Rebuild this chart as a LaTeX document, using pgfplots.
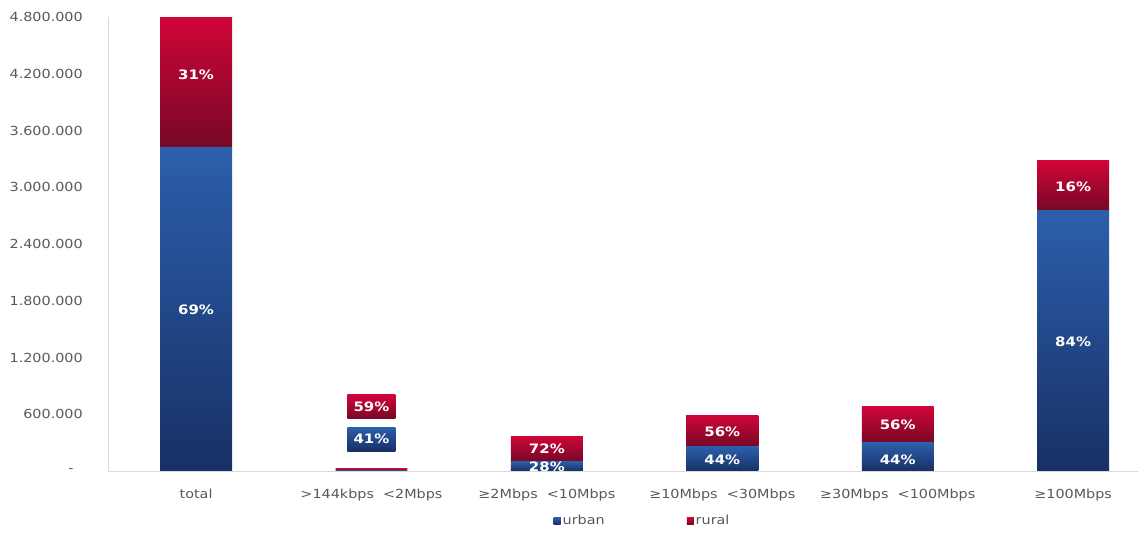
\documentclass[border=0pt]{standalone}
\usepackage{fontspec}
\setmainfont{DejaVu Sans}[FakeStretch=1.15]
\usepackage{pgfplots}
\pgfplotsset{compat=1.18}
\definecolor{urbanT}{RGB}{44,95,172}
\definecolor{urbanB}{RGB}{24,48,100}
\definecolor{ruralT}{RGB}{208,5,56}
\definecolor{ruralB}{RGB}{118,8,38}
\definecolor{tickgray}{RGB}{89,89,89}
\definecolor{axgray}{RGB}{217,217,217}
\newcommand\tickfont{\fontsize{12.5bp}{15bp}\selectfont}
\newcommand\lblfont{\fontsize{13bp}{15bp}\selectfont\bfseries}
\tikzset{lbl/.style={text=white, font=\lblfont, inner sep=0pt}}
\pgfplotsset{
  base/.style={at={(0,0)}, anchor=south west,
    scale only axis, width=1030bp, height=454bp,
    ybar stacked, bar width=0.41,
    xmin=-0.502, xmax=5.37, ymin=0, ymax=4800000},
  hid/.style={base, hide axis},
  u/.style={draw=none, top color=urbanT, bottom color=urbanB, fill=urbanB},
  r/.style={draw=none, top color=ruralT, bottom color=ruralB, fill=ruralB},
}
\begin{document}
\begin{tikzpicture}
\useasboundingbox (-108bp,-73bp) rectangle (1034bp,471bp);
% category 0 (total) with axis, ticks and legend
\begin{axis}[base,
  xtick={0,1,2,3,4,5},
  xticklabels={total, {>144kbps\ \ <2Mbps}, {≥2Mbps\ \ <10Mbps}, {≥10Mbps\ \ <30Mbps}, {≥30Mbps\ \ <100Mbps}, {≥100Mbps}},
  ytick={0,600000,1200000,1800000,2400000,3000000,3600000,4200000,4800000},
  yticklabels={{-\ \ \ },600.000,1.200.000,1.800.000,2.400.000,3.000.000,3.600.000,4.200.000,4.800.000},
  scaled y ticks=false,
  /pgf/number format/assume math mode=true,
  major tick length=0pt,
  axis lines*=left,
  axis line style={draw=axgray, line width=0.8bp, -},
  tick label style={font=\tickfont, text=tickgray},
  xticklabel style={anchor=base, yshift=-27bp},
  yticklabel style={anchor=east, inner sep=0pt, xshift=-25bp},
  legend style={at={(0.519,-0.110)}, anchor=center, draw=none, fill=none,
    font=\tickfont, text=tickgray, legend columns=2,
    /tikz/every even column/.append style={column sep=80bp}},
  legend image code/.code={\fill[#1] (-2bp,-3.5bp) rectangle (5bp,3.5bp);},
]
\addplot[u] coordinates {(0,3420000)};
\addplot[r] coordinates {(0,1375000)};
\legend{urban, rural}
\end{axis}
% >144kbps <2Mbps
\begin{axis}[hid]
\addplot[u] coordinates {(1,12000)};
\addplot[r] coordinates {(1,18000)};
\end{axis}
% >=2Mbps <10Mbps
\begin{axis}[hid]
\addplot[u] coordinates {(2,104000)};
\addplot[r] coordinates {(2,266000)};
\end{axis}
% >=10Mbps <30Mbps
\begin{axis}[hid]
\addplot[u] coordinates {(3,258000)};
\addplot[r] coordinates {(3,334000)};
\end{axis}
% >=30Mbps <100Mbps
\begin{axis}[hid]
\addplot[u] coordinates {(4,298000)};
\addplot[r] coordinates {(4,379000)};
\end{axis}
% >=100Mbps
\begin{axis}[hid]
\addplot[u] coordinates {(5,2750000)};
\addplot[r] coordinates {(5,528000)};
\end{axis}
% percentage labels
\begin{axis}[hid]
\node[lbl] at (axis cs:0,4187000) {31\%};
\node[lbl] at (axis cs:0,1702000) {69\%};
\node[lbl, top color=ruralT, bottom color=ruralB, minimum width=48bp, minimum height=24bp] at (axis cs:1,677000) {59\%};
\node[lbl, top color=urbanT, bottom color=urbanB, minimum width=48bp, minimum height=24bp] at (axis cs:1,338000) {41\%};
\node[lbl] at (axis cs:2,233000) {72\%};
\node[lbl] at (axis cs:2,50000) {28\%};
\node[lbl] at (axis cs:3,412000) {56\%};
\node[lbl] at (axis cs:3,116000) {44\%};
\node[lbl] at (axis cs:4,486000) {56\%};
\node[lbl] at (axis cs:4,116000) {44\%};
\node[lbl] at (axis cs:5,3003000) {16\%};
\node[lbl] at (axis cs:5,1364000) {84\%};
\end{axis}
\end{tikzpicture}
\end{document}
